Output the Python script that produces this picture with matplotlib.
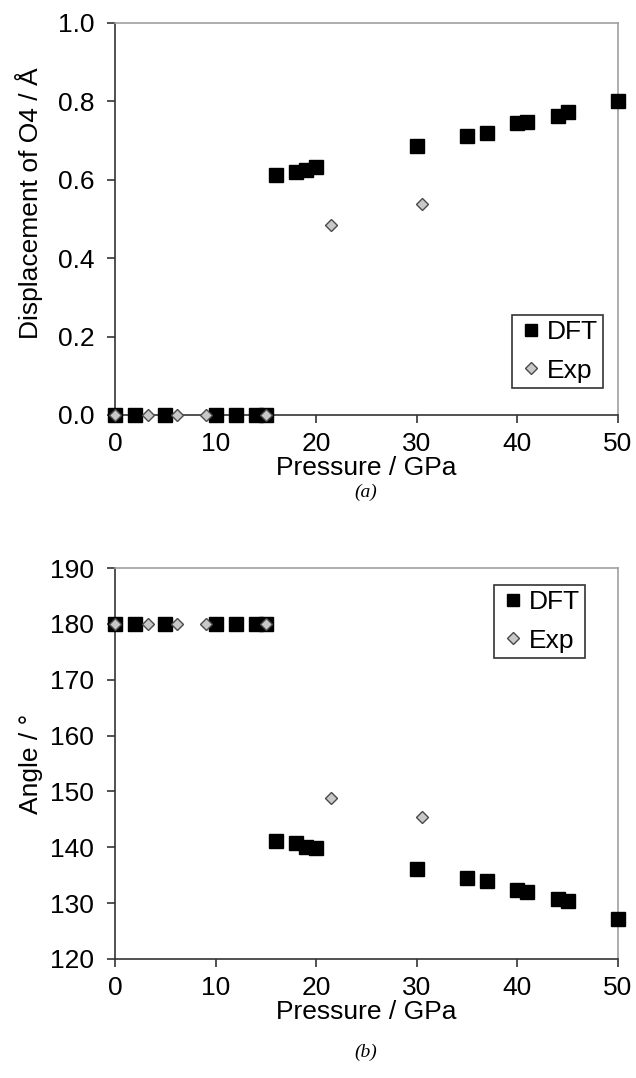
import matplotlib
matplotlib.use("Agg")
import matplotlib.pyplot as plt

plt.rcParams['font.family'] = ['Liberation Sans', 'DejaVu Sans']

# DFT calculations
dft_p = [0, 2, 5, 10, 12, 14, 15, 16, 18, 19, 20, 30, 35, 37, 40, 41, 44, 45, 50]
dft_disp = [0, 0, 0, 0, 0, 0, 0, 0.611, 0.619, 0.626, 0.632, 0.685, 0.711, 0.719,
            0.745, 0.747, 0.764, 0.772, 0.800]
dft_angle = [180, 180, 180, 180, 180, 180, 180, 141.1, 140.7, 140.1, 139.9, 136.2,
             134.5, 134.0, 132.3, 132.0, 130.8, 130.3, 127.2]

# experiment
exp_p = [0, 3.3, 6.2, 9, 15, 21.5, 30.5]
exp_disp = [0, 0, 0, 0, 0, 0.485, 0.539]
exp_angle = [180, 180, 180, 180, 180, 148.8, 145.4]

W, H = 636, 1078
fig = plt.figure(figsize=(W / 100, H / 100), dpi=100)
ax1 = fig.add_axes([115 / W, 1 - 415 / H, 503 / W, 392 / H])
ax2 = fig.add_axes([115 / W, 1 - 959 / H, 503 / W, 391 / H])

fs = 19


def draw(ax, dft_y, exp_y):
    ax.plot(dft_p, dft_y, ls='none', marker='s', ms=9.5, color='black',
            label='DFT', zorder=3, clip_on=False)
    ax.plot(exp_p, exp_y, ls='none', marker='D', ms=6.5, mfc='#c8c8c8',
            mec='#4a4a4a', mew=1.0, label='Exp', zorder=4, clip_on=False)
    ax.set_xlim(0, 50)
    ax.set_xticks(range(0, 51, 10))
    ax.set_xlabel('Pressure / GPa', fontsize=fs, labelpad=0)
    for s in ['left', 'bottom']:
        ax.spines[s].set_color('#333333')
        ax.spines[s].set_linewidth(1.2)
    for s in ['top', 'right']:
        ax.spines[s].set_color('#a0a0a0')
        ax.spines[s].set_linewidth(1.2)
    ax.tick_params(direction='out', length=6, width=1.2, color='#333333',
                   labelsize=fs, top=False, right=False)
    ax.tick_params(axis='y', pad=9)
    ax.tick_params(axis='x', pad=6)
    leg = ax.legend(fontsize=fs, frameon=True, fancybox=False, edgecolor='black',
                    handletextpad=0.1, handlelength=1.0, borderpad=0.2,
                    labelspacing=0.55, borderaxespad=0, markerscale=0.9)
    leg.get_frame().set_linewidth(1.2)
    return leg


leg1 = draw(ax1, dft_disp, exp_disp)
leg1.set_loc('lower right')
leg1.set_bbox_to_anchor((0.97, 0.069), transform=ax1.transAxes)
ax1.set_ylim(0, 1.0)
ax1.set_yticks([0, 0.2, 0.4, 0.6, 0.8, 1.0])
ax1.set_yticklabels(['0.0', '0.2', '0.4', '0.6', '0.8', '1.0'])
ax1.set_ylabel('Displacement of O4 / Å', fontsize=fs)
ax1.yaxis.set_label_coords(-0.143, 0.54)

leg2 = draw(ax2, dft_angle, exp_angle)
leg2.set_loc('upper right')
leg2.set_bbox_to_anchor((0.934, 0.957), transform=ax2.transAxes)
ax2.set_ylim(120, 190)
ax2.set_yticks(range(120, 191, 10))
ax2.set_ylabel('Angle / °', fontsize=fs)
ax2.yaxis.set_label_coords(-0.143, 0.5)

fig.text(366 / W, 1 - 492 / H, '(a)', ha='center', va='center', fontsize=14,
         style='italic', family='Liberation Serif')
fig.text(366 / W, 1 - 1052 / H, '(b)', ha='center', va='center', fontsize=14,
         style='italic', family='Liberation Serif')

fig.savefig('out.png', dpi=100)
